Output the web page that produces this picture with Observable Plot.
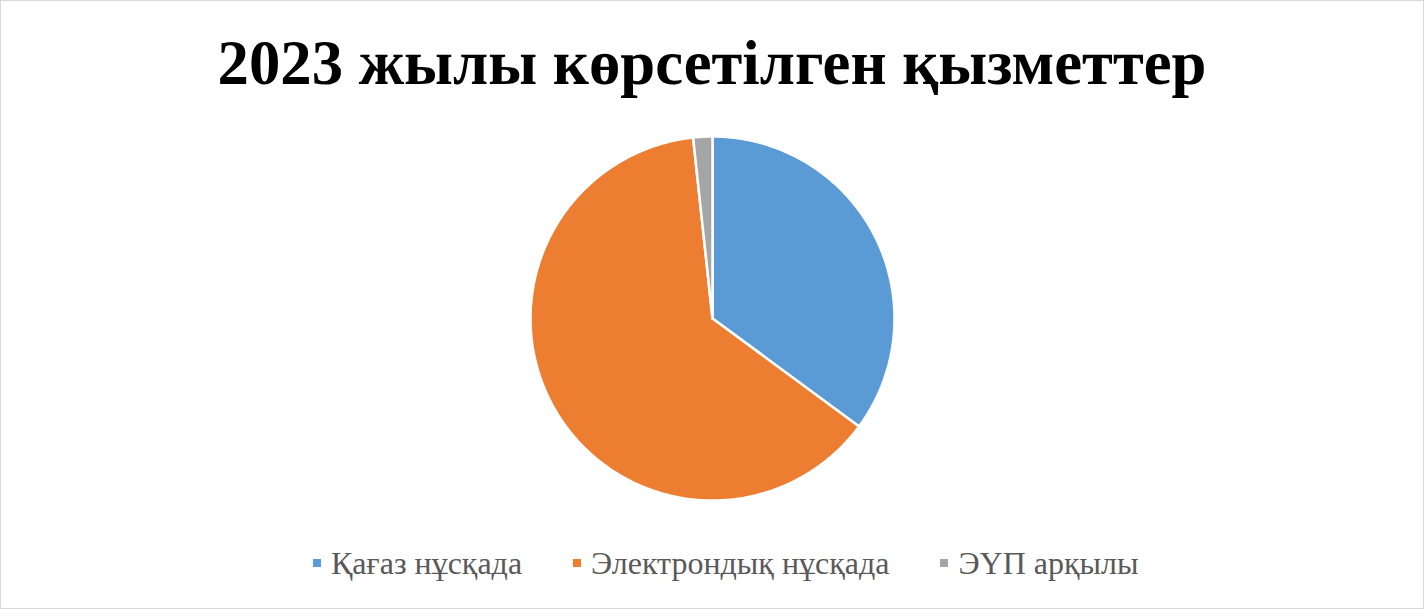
<!DOCTYPE html>
<html>
<head>
<meta charset="utf-8">
<script src="https://cdn.jsdelivr.net/npm/d3@7"></script>
<script src="https://cdn.jsdelivr.net/npm/@observablehq/plot@0.6"></script>
<style>
  html, body { margin: 0; padding: 0; background: #fff; }
  #frame { width: 1422px; height: 607px; border: 1px solid #d9d9d9; position: relative; overflow: hidden; }
  #title { position: absolute; left: 0; top: 22px; width: 1422px; text-align: center;
           font-family: "Liberation Serif", "Times New Roman", serif; font-weight: bold; font-size: 62.7px; line-height: 80px; color: #000; }
  #chart { position: absolute; left: 0; top: 117px; }
  #legend { position: absolute; left: 0; top: 544px; width: 1422px; box-sizing: border-box; padding-left: 312px;
            display: flex; justify-content: flex-start; gap: 51px;
            font-family: "Liberation Serif", "Times New Roman", serif; font-size: 32px; line-height: 36px; color: #595959; }
  .item { display: flex; align-items: center; gap: 10px; }
  .sw { width: 8px; height: 8px; display: inline-block; }
</style>
</head>
<body>
<div id="frame">
  <div id="title"></div>
  <div id="chart"></div>
  <div id="legend"></div>
</div>
<script>
const titleText = "2023 жылы көрсетілген қызметтер";
const categories = ["Қағаз нұсқада", "Электрондық нұсқада", "ЭҮП арқылы"];
const values = [35.1, 63.2, 1.7];
const colors = ["#5B9BD5", "#ED7D31", "#A5A5A5"];

document.getElementById("title").textContent = titleText;

const W = 1422, H = 400, R = 182;
const pie = d3.pie().sort(null).value(d => d.value)(categories.map((c, i) => ({category: c, value: values[i]})));

// polygon points of each slice, computed from the pie layout angles
const pts = [];
pie.forEach(s => {
  const n = Math.max(2, Math.ceil((s.endAngle - s.startAngle) / 0.01));
  pts.push({category: s.data.category, x: 0, y: 0});
  for (let k = 0; k <= n; k++) {
    const a = s.startAngle + (s.endAngle - s.startAngle) * k / n;
    pts.push({category: s.data.category, x: R * Math.sin(a), y: R * Math.cos(a)});
  }
  pts.push({category: s.data.category, x: 0, y: 0});
});

const plot = Plot.plot({
  width: W, height: H,
  margin: 0,
  x: {domain: [-W / 2, W / 2], axis: null},
  y: {domain: [-H / 2, H / 2], axis: null},
  color: {domain: categories, range: colors},
  marks: [
    Plot.line(pts, {x: "x", y: "y", z: "category", fill: "category", stroke: "#fff", strokeWidth: 2.5, strokeLinejoin: "miter", curve: "linear"})
  ]
});
document.getElementById("chart").appendChild(plot);

const legend = document.getElementById("legend");
categories.forEach((c, i) => {
  const it = document.createElement("div");
  it.className = "item";
  const sw = document.createElement("span");
  sw.className = "sw";
  sw.style.background = colors[i];
  const t = document.createElement("span");
  t.textContent = c;
  it.appendChild(sw); it.appendChild(t);
  legend.appendChild(it);
});
</script>
</body>
</html>
